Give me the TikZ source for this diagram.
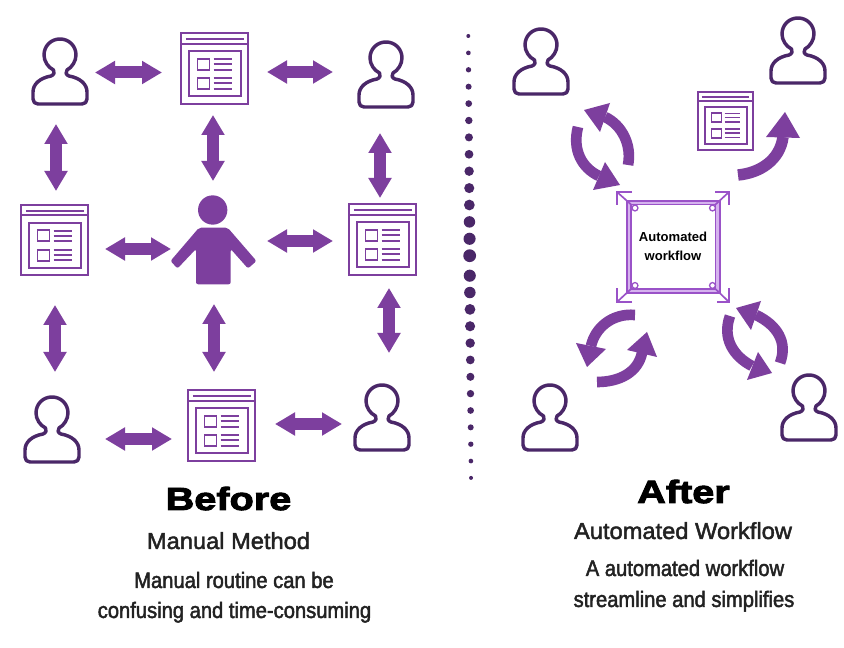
\documentclass[tikz,border=0pt]{standalone}
\usepackage{fontspec}
\usetikzlibrary{arrows.meta}
\setmainfont{Liberation Sans}
\newfontfamily\heavyf[FakeBold=3,FakeStretch=1.24]{Liberation Sans Bold}
\newfontfamily\bodyf[FakeBold=2,FakeStretch=0.9]{Liberation Sans}
\newfontfamily\subf[FakeBold=2,FakeStretch=1.02]{Liberation Sans}
\newfontfamily\boxf{Liberation Sans Bold}
\definecolor{mainpurple}{HTML}{7D3F9E}
\definecolor{darkpurple}{HTML}{4A2768}
\definecolor{framepurple}{HTML}{9A52C8}
\definecolor{framelight}{HTML}{D5B2EE}
\definecolor{inkgray}{HTML}{222222}
\tikzset{
  biarrow/.style={draw=mainpurple,line width=9pt,{Triangle[length=15pt,width=16.5pt]}-{Triangle[length=15pt,width=16.5pt]}},
  band/.style={draw=mainpurple,line width=8pt},
  headfill/.style={fill=mainpurple},
  titlehead/.style={font=\heavyf\fontsize{24pt}{24pt}\selectfont,text=black,anchor=base,inner sep=0pt},
  subhead/.style={font=\subf\fontsize{17.4pt}{20pt}\selectfont,text=inkgray,anchor=base,inner sep=0pt},
  bodytext/.style={font=\bodyf\fontsize{16.8pt}{20pt}\selectfont,text=inkgray,anchor=base,inner sep=0pt},
  pics/userpic/.style={code={
    \draw[darkpurple,line width=2.6pt,line join=round]
      (-6.5,-1) .. controls (-12,-3.5) and (-16,-10) .. (-16,-16)
      .. controls (-16,-25) and (-9,-32) .. (0,-32)
      .. controls (9,-32) and (16,-25) .. (16,-16)
      .. controls (16,-10) and (12,-3.5) .. (7,-1)
      .. controls (5,1) and (6,4) .. (9,5)
      .. controls (20,7) and (27,13) .. (27,21)
      -- (27,28) .. controls (27,31) and (25,33) .. (22,33)
      -- (-22,33) .. controls (-25,33) and (-27,31) .. (-27,28)
      -- (-27,21) .. controls (-27,13) and (-20,7) .. (-9,5)
      .. controls (-6,4) and (-5,1) .. (-6.5,-1) -- cycle;
  }},
  pics/formpic/.style={code={
    \begin{scope}[mainpurple,line width=1.25pt]
      \draw (-33.3,-35.3) rectangle (33.3,35.3);
      \draw (-33.3,-24.7) -- (33.3,-24.7);
      \draw[line width=1.6pt] (-28.7,-29.3) -- (29,-29.3);
      \draw[line width=1.5pt] (-25.3,-17) rectangle (26.3,28);
      \draw (-17,-9.7) rectangle (-5,1.3);
      \draw (-17,9.7) rectangle (-5,20.7);
      \foreach \yy in {-9.3,-4.3,1.3,9.7,14.7,20.3}{\draw (-1,\yy) -- (17.3,\yy);}
    \end{scope}
  }},
}
\begin{document}
\begin{tikzpicture}[x=0.75pt,y=-0.75pt]
\useasboundingbox (0,0) rectangle (844,648);
\fill[white] (0,0) rectangle (844,648);

% icon anchors
\coordinate (userA) at (60,71);
\coordinate (userB) at (386,74);
\coordinate (userC) at (52,429);
\coordinate (userD) at (382,417);
\coordinate (userE) at (541,61);
\coordinate (userF) at (798,50);
\coordinate (userG) at (550,417);
\coordinate (userH) at (809,407);
\coordinate (formA) at (214.5,68.5);
\coordinate (formB) at (54.5,240);
\coordinate (formC) at (382.5,239.5);
\coordinate (formD) at (221.5,425.5);
\coordinate (formE) at (725.5,121);

\foreach \nm in {userA,userB,userC,userD,userE,userF,userG,userH}{\pic at (\nm) {userpic};}
\foreach \nm in {formA,formB,formC,formD}{\pic at (\nm) {formpic};}
\pic[scale=0.82] at (formE) {formpic};

% central person
\fill[mainpurple] (212.7,210) circle[radius=11pt];
\fill[mainpurple,rounded corners=1.6pt]
  (199,227.7) -- (227.7,227.7) -- (256.5,261) -- (248,268.5) -- (230.7,249)
  -- (230.7,284.3) -- (196,284.3) -- (196,249) -- (177.5,268.5) -- (170.5,261) -- cycle;

% double arrows
\coordinate (a1) at (95,72.5);    \coordinate (b1) at (162,72.5);
\coordinate (a2) at (267,72);     \coordinate (b2) at (333,72);
\coordinate (a3) at (56,124);     \coordinate (b3) at (56,191);
\coordinate (a4) at (213,115);    \coordinate (b4) at (213,181);
\coordinate (a5) at (380,133);    \coordinate (b5) at (380,198);
\coordinate (a6) at (105,249);    \coordinate (b6) at (171,249);
\coordinate (a7) at (267,241);    \coordinate (b7) at (333,241);
\coordinate (a8) at (55,305);     \coordinate (b8) at (55,372);
\coordinate (a9) at (214,304);    \coordinate (b9) at (214,372);
\coordinate (a10) at (389,288);   \coordinate (b10) at (389,353);
\coordinate (a11) at (105,439);   \coordinate (b11) at (172,439);
\coordinate (a12) at (275,424);   \coordinate (b12) at (342,424);
\foreach \i in {1,...,12}{\draw[biarrow] (a\i) -- (b\i);}

% dotted divider
\foreach \i in {0,...,26}{
  \pgfmathsetmacro{\dx}{468.3+\i*0.105}
  \pgfmathsetmacro{\dy}{\i<14 ? 36+16.9*\i : 275.7+16.85*(\i-14)}
  \pgfmathsetmacro{\dr}{0.75*(6.4-4.4*abs(\i-13)/13)}
  \fill[darkpurple] (\dx,\dy) circle[radius=\dr pt];
}

% cycle arrows, top left
\draw[band] (628,165) .. controls (632,145) and (622,125) .. (605,117);
\fill[headfill] (584,110) -- (610,103) -- (600,132) -- cycle;
\draw[band] (578,127) .. controls (572,150) and (582,168) .. (599,176);
\fill[headfill] (620,185) -- (605,162) -- (593,190) -- cycle;
% bottom left
\draw[band] (635,315) .. controls (612,313) and (595,328) .. (591,346);
\fill[headfill] (587,367) -- (576,343) -- (606,349) -- cycle;
\draw[band] (597,382) .. controls (620,382) and (638,372) .. (642,353);
\fill[headfill] (647,332) -- (627,350) -- (657,357) -- cycle;
% bottom right
\draw[band] (780,363) .. controls (788,342) and (777,325) .. (756,315);
\fill[headfill] (736,308) -- (761,301) -- (751,330) -- cycle;
\draw[band] (730,316) .. controls (722,338) and (733,356) .. (752,366);
\fill[headfill] (772,373) -- (758,352) -- (747,380) -- cycle;
% single curved arrow
\draw[band,line width=8.6pt] (738,175) .. controls (760,173) and (780,160) .. (783,137);
\fill[headfill] (785,112) -- (766,137) -- (800,138) -- cycle;

% central frame
\fill[framelight,even odd rule] (627,201) rectangle (720,293) (631,204.5) rectangle (715.5,289);
\begin{scope}[framepurple,line width=1.25pt]
  \draw (627,201) rectangle (720,293);
  \draw (631,204.5) rectangle (715.5,289);
  \draw (631,204.5) -- (617,192);
  \draw (632,192) -- (617,192) -- (617,205);
  \draw (715.5,204.5) -- (729,192);
  \draw (715,192) -- (729,192) -- (729,205);
  \draw (631,289) -- (617,302);
  \draw (632,302) -- (617,302) -- (617,288);
  \draw (715.5,289) -- (729,302);
  \draw (717,302) -- (729,302) -- (729,288);
\end{scope}
\begin{scope}[framepurple,line width=1pt]
  \draw (635,208) circle[radius=2.2pt];
  \draw (712.5,208) circle[radius=2.2pt];
  \draw (635,285.5) circle[radius=2.2pt];
  \draw (712.5,285.5) circle[radius=2.2pt];
\end{scope}
\node[font=\boxf\fontsize{9.8pt}{10pt}\selectfont,text=black,anchor=base,inner sep=0pt] (boxtopline) at (673,241.5) {Automated};
\node[font=\boxf\fontsize{9.8pt}{10pt}\selectfont,text=black,anchor=base,inner sep=0pt] (boxbottomline) at (673,260.5) {workflow};

% captions
\node[titlehead] (before) at (228.5,510) {Before};
\node[subhead] (manualmethod) at (228.5,549) {Manual Method};
\node[bodytext] (routine) at (234,588) {Manual routine can be};
\node[bodytext] (confusing) at (234.5,618) {confusing and time-consuming};
\node[titlehead] (after) at (683.5,503) {After};
\node[subhead] (autoworkflow) at (683,539) {Automated Workflow};
\node[bodytext] (automated) at (685,576) {A automated workflow};
\node[bodytext] (streamline) at (684,607) {streamline and simplifies};
\end{tikzpicture}
\end{document}
